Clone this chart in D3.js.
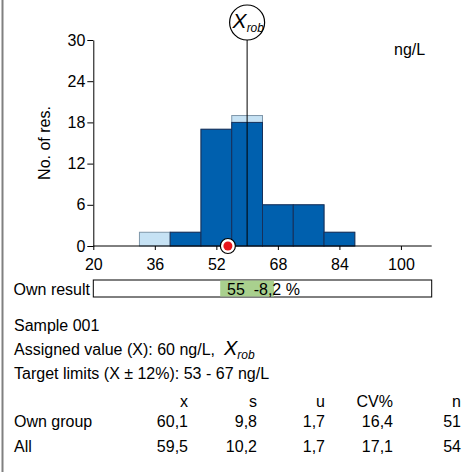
<!DOCTYPE html>
<html>
<head>
<meta charset="utf-8">
<script src="https://cdn.jsdelivr.net/npm/d3@7"></script>
<style>
  html, body { margin: 0; padding: 0; background: #fff; }
  svg { display: block; font-family: "Liberation Sans", Arial, sans-serif; }
</style>
</head>
<body>
<svg id="chart" width="476" height="472"></svg>
<script>
// Histogram bins (lower edge, ng/L) and counts
const binStarts = [32, 40, 48, 56, 64, 72, 80];
const binWidth = 8;
const ownGroupCounts = [0, 2, 17, 18, 6, 6, 2];
const allCounts = [2, 2, 17, 19, 6, 6, 2];

const xTicks = [20, 36, 52, 68, 84, 100];
const yTicks = [0, 6, 12, 18, 24, 30];

const assignedValue = 60;
const ownResult = 55;
const ownDeviation = "-8,2 %";
const targetLimits = [53, 67];
const unit = "ng/L";

const statCols = ["x", "s", "u", "CV%", "n"];
const statRows = ["Own group", "All"];
const statValues = [
  ["60,1", "9,8", "1,7", "16,4", "51"],
  ["59,5", "10,2", "1,7", "17,1", "54"]
];

const svg = d3.select("#chart");
const fs = 16;

// left frame line
svg.append("line").attr("x1", 2.5).attr("x2", 2.5).attr("y1", 0).attr("y2", 472)
  .attr("stroke", "#808080").attr("stroke-width", 2);

const x = d3.scaleLinear().domain([20, 108]).range([93.3, 431.7]);
const y = d3.scaleLinear().domain([0, 30]).range([246, 40]);

const bins = binStarts.map((b, i) => ({ x0: b, x1: b + binWidth, own: ownGroupCounts[i], all: allCounts[i] }));

// all-results bars (light) behind own-group bars (dark)
svg.append("g").selectAll("rect").data(bins.filter(d => d.all > 0)).join("rect")
  .attr("x", d => x(d.x0)).attr("width", d => x(d.x1) - x(d.x0))
  .attr("y", d => y(d.all)).attr("height", d => y(0) - y(d.all))
  .attr("fill", "#c6e2f4").attr("stroke", "#7f97aa").attr("stroke-width", 1);

svg.append("g").selectAll("rect").data(bins.filter(d => d.own > 0)).join("rect")
  .attr("x", d => x(d.x0)).attr("width", d => x(d.x1) - x(d.x0))
  .attr("y", d => y(d.own)).attr("height", d => y(0) - y(d.own))
  .attr("fill", "#0060ae").attr("stroke", "#17305a").attr("stroke-width", 1);

// axes
const xAxis = svg.append("g").attr("transform", `translate(0,${y(0)})`)
  .call(d3.axisBottom(x).tickValues(xTicks).tickSize(4).tickSizeOuter(0).tickPadding(9));
const yAxis = svg.append("g").attr("transform", `translate(${x(20)},0)`)
  .call(d3.axisLeft(y).tickValues(yTicks).tickSize(6).tickSizeOuter(0).tickPadding(2));
[xAxis, yAxis].forEach(a => {
  a.selectAll("text").attr("font-size", fs).attr("fill", "#000").attr("font-family", "Liberation Sans, Arial, sans-serif");
  a.selectAll("line").attr("stroke", "#000");
  a.select(".domain").attr("stroke", "#000");
});
xAxis.select(".domain").attr("d", `M${x(20)},0H${x(108)}`);

// y label
svg.append("text").attr("transform", `translate(50,143) rotate(-90)`)
  .attr("text-anchor", "middle").attr("font-size", fs).text("No. of res.");

// unit
svg.append("text").attr("x", 394).attr("y", 55).attr("font-size", fs).text(unit);

// assigned value marker line and circle
svg.append("line").attr("x1", x(assignedValue)).attr("x2", x(assignedValue))
  .attr("y1", y(30)).attr("y2", y(0)).attr("stroke", "#000").attr("stroke-width", 1);
svg.append("circle").attr("cx", x(assignedValue)).attr("cy", 22.5).attr("r", 17.5)
  .attr("fill", "#fff").attr("stroke", "#000").attr("stroke-width", 1.2);
const xr = svg.append("text").attr("x", x(assignedValue) - 14.5).attr("y", 28)
  .attr("font-style", "italic").attr("font-size", 21);
xr.append("tspan").text("X");
xr.append("tspan").attr("font-size", 12).attr("dy", 4).text("rob");

// own result marker
svg.append("circle").attr("cx", x(ownResult)).attr("cy", y(0)).attr("r", 7.5)
  .attr("fill", "#fff").attr("stroke", "#000").attr("stroke-width", 1.2);
svg.append("circle").attr("cx", x(ownResult)).attr("cy", y(0)).attr("r", 4.5)
  .attr("fill", "#e8141b");

// own result bar
svg.append("text").attr("x", 90).attr("y", 295).attr("text-anchor", "end").attr("font-size", fs).text("Own result");
svg.append("rect").attr("x", x(20)).attr("y", 280).attr("width", x(108) - x(20)).attr("height", 17)
  .attr("fill", "#fff").attr("stroke", "#000").attr("stroke-width", 1);
svg.append("rect").attr("x", x(targetLimits[0])).attr("y", 280.5).attr("width", x(targetLimits[1]) - x(targetLimits[0])).attr("height", 16)
  .attr("fill", "#a9d08e");
svg.append("text").attr("x", 227).attr("y", 295).attr("font-size", fs)
  .attr("xml:space", "preserve").text(`${ownResult}  ${ownDeviation}`);

// info lines
svg.append("text").attr("x", 14).attr("y", 331).attr("font-size", fs).text("Sample 001");
const av = svg.append("text").attr("x", 14).attr("y", 355).attr("font-size", fs).attr("xml:space", "preserve");
av.append("tspan").text(`Assigned value (X): ${assignedValue} ${unit},  `);
av.append("tspan").attr("font-style", "italic").attr("font-size", 20).text("X");
av.append("tspan").attr("font-style", "italic").attr("font-size", 12).attr("dy", 4).text("rob");
svg.append("text").attr("x", 14).attr("y", 379).attr("font-size", fs)
  .text(`Target limits (X ± 12%): ${targetLimits[0]} - ${targetLimits[1]} ${unit}`);

// statistics table
const colRight = [188, 257, 325, 393, 461];
svg.append("g").selectAll("text").data(statCols).join("text")
  .attr("x", (d, i) => colRight[i]).attr("y", 407).attr("text-anchor", "end").attr("font-size", fs).text(d => d);
statRows.forEach((r, ri) => {
  const yy = 427 + ri * 24.5;
  svg.append("text").attr("x", 14).attr("y", yy).attr("font-size", fs).text(r);
  svg.append("g").selectAll("text").data(statValues[ri]).join("text")
    .attr("x", (d, i) => colRight[i]).attr("y", yy).attr("text-anchor", "end").attr("font-size", fs).text(d => d);
});
</script>
</body>
</html>
